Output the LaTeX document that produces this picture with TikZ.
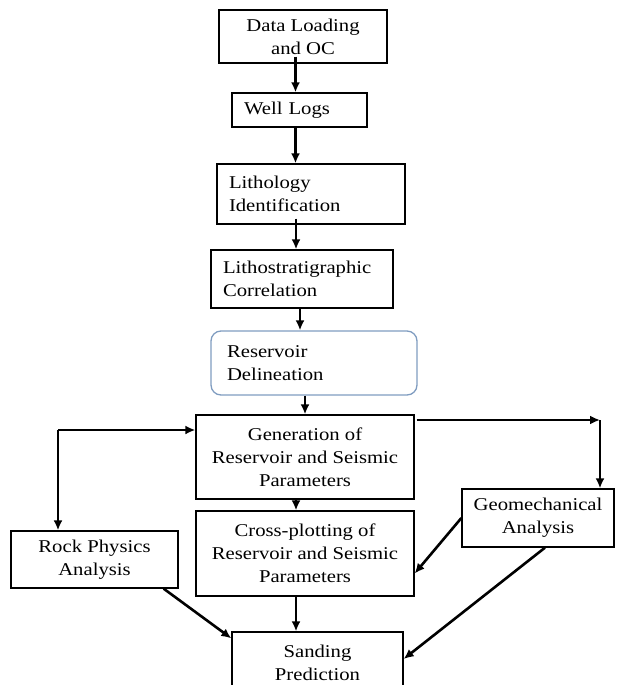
\documentclass[tikz,border=0pt]{standalone}
\usepackage{fontspec}
\setmainfont[FakeStretch=1.15]{Liberation Serif}
\usepackage{tikz}
\usetikzlibrary{arrows.meta, positioning, calc}
\definecolor{resblue}{HTML}{7F9CC0}

\begin{document}
\begin{tikzpicture}[
  x=1pt, y=-1pt,
  stepbox/.style={draw, line width=1.3pt, inner sep=0pt, align=center,
                  font=\fontsize{18}{23}\selectfont},
  leftbox/.style={stepbox, align=left, inner xsep=12pt},
  arrow/.style={-{Latex[length=10pt, width=9pt]}, line width=2.6pt}
]
  \useasboundingbox (0,0) rectangle (619,685);

  % Preparation column
  \node[stepbox, minimum width=168pt, minimum height=53pt] (load) at (303,36.5) {Data Loading\\and OC};
  \node[leftbox, text width=111pt, minimum height=34pt] (wells) at (299.5,110) {Well Logs};
  \node[leftbox, text width=164pt, minimum height=60pt] (litho) at (311,194) {Lithology\\Identification};
  \node[leftbox, text width=158pt, minimum height=58pt] (corr) at (302,279) {Lithostratigraphic\\Correlation};
  \node[leftbox, inner xsep=16pt, text width=174pt, minimum height=64pt,
        draw=resblue, rounded corners=10pt] (res) at (314,363) {Reservoir\\Delineation};

  % Parameter row
  \node[stepbox, minimum width=218pt, minimum height=84pt] (gen) at (305,457) {Generation of\\Reservoir and Seismic\\Parameters};
  \node[stepbox, minimum width=218pt, minimum height=85pt] (cross) at (305,553.5) {Cross-plotting of\\Reservoir and Seismic\\Parameters};
  \node[stepbox, minimum width=167pt, minimum height=57pt] (rock) at (94.5,559.5) {Rock Physics\\Analysis};
  \node[stepbox, minimum width=152pt, minimum height=58pt] (geo) at (538,518) {Geomechanical\\Analysis};

  % Result
  \node[stepbox, minimum width=171pt, minimum height=62pt] (sand) at (317.5,663) {Sanding\\Prediction};

  \coordinate (lsplit) at (58,430);
  \coordinate (rsplit) at (600,420);

  % Arrows
  \draw[arrow] ($(load.south -| wells.north)+(-4,-7)$) -- ([xshift=-4pt]wells.north);
  \draw[arrow] ([xshift=-4pt]wells.south) -- ([xshift=-4pt]wells.south |- litho.north);
  \draw[arrow] ($(litho.south -| corr.north)+(-6,-6)$) -- ([xshift=-6pt]corr.north);
  \draw[arrow] ([xshift=-2pt]corr.south) -- ([xshift=-2pt]corr.south |- res.north);
  \draw[arrow] (gen.north |- res.south) -- (gen.north);
  \draw[arrow] ([xshift=-9pt]gen.south) -- ([xshift=-9pt]cross.north);
  \draw[arrow] ([xshift=-9pt]cross.south) -- ([xshift=-9pt]cross.south |- sand.north);

  % Side branches
  \draw[arrow] (lsplit) -- (lsplit -| gen.west);
  \draw[arrow] (lsplit) -- (lsplit |- rock.north);
  \draw[arrow] ([xshift=2pt]gen.east |- rsplit) -- (rsplit);
  \draw[arrow] (rsplit) -- (rsplit |- geo.north);
  \draw[arrow] (geo.west) -- ([yshift=-20pt]cross.east);
  \draw[arrow] ([xshift=7pt]geo.south) -- ([yshift=4pt]sand.east);
  \draw[arrow] ([xshift=-15pt]rock.south east) -- ([yshift=-7pt]sand.north west);
\end{tikzpicture}
\end{document}
